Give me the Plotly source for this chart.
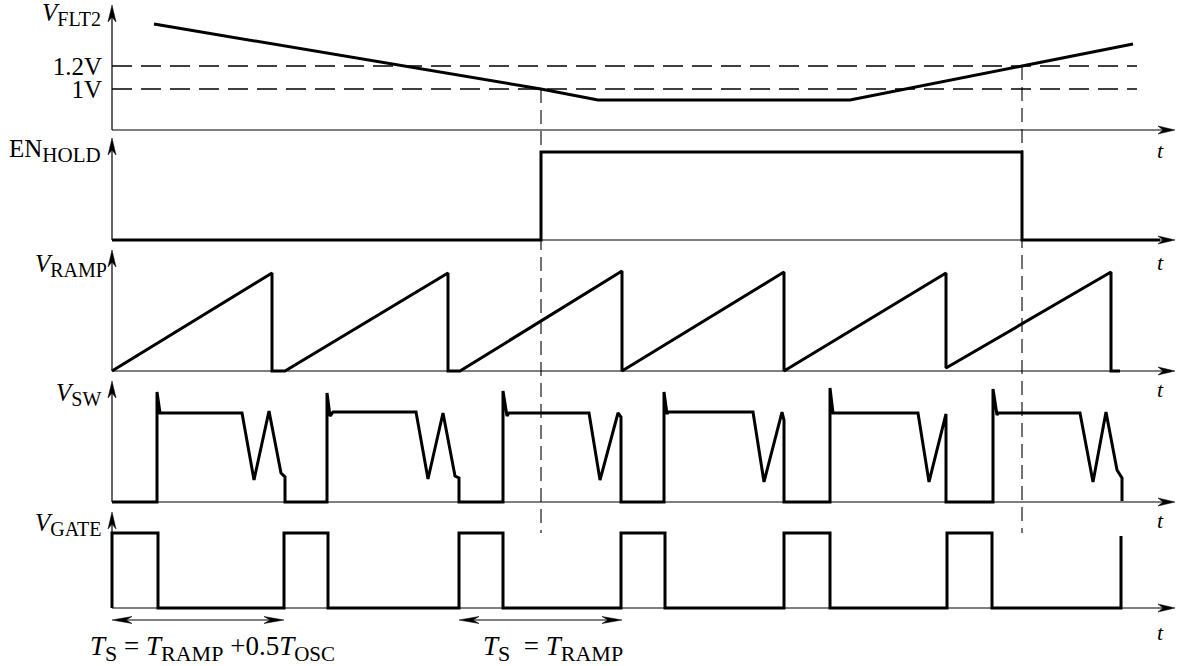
import plotly.graph_objects as go

W, H = 1179, 666
AX_X = 112            # pixel column of the vertical axes
SERIF = "Liberation Serif"

# ---------------- data (time t in arbitrary units, t=0 at the axes) ----------------
flt2_t = [42, 429, 486, 738, 910, 1021]
flt2_v = [1.565, 1.0, 0.904, 0.904, 1.2, 1.391]
thresholds = [1.0, 1.2]
threshold_labels = ["1V", "1.2V"]
cross_t = [429, 910]          # times where V_FLT2 crosses 1V (falling) and 1.2V (rising)

en_t = [0, 429, 429, 910, 910, 1048]
en_v = [0, 0, 1, 1, 0, 0]

ramp_t = [0, 160, 160, 173, 336, 336, 348, 510, 510, 672, 672, 834, 834, 999, 999, 1008]
ramp_v = [0, 1.0, 0, 0, 1.0, 0, 0, 1.02, 0, 1.01, 0, 1.0, 0.03, 1.01, 0, 0]

sw_t = [0, 45, 45, 48, 130, 142, 157, 169, 173, 173,
        215, 215, 218, 221, 304, 316, 331, 343, 347, 347,
        391, 391, 395, 397, 477, 488, 506, 509, 509,
        552, 552, 555, 556, 641, 652, 670, 672, 672,
        718, 718, 721, 806, 817, 834, 834,
        881, 881, 885, 886, 968, 981, 994, 1005, 1010, 1010]
sw_v = [0, 0, 1.236, 1.0, 1.0, 0.247, 1.022, 0.326, 0.281, 0,
        0, 1.225, 0.966, 1.011, 1.011, 0.258, 1.0, 0.292, 0.27, 0,
        0, 1.247, 0.966, 1.0, 1.0, 0.247, 1.0, 0.955, 0,
        0, 1.236, 0.989, 1.011, 1.011, 0.225, 1.011, 0.92, 0,
        0, 1.281, 1.0, 1.0, 0.225, 0.989, 0,
        0, 1.27, 0.978, 1.0, 1.0, 0.225, 1.011, 0.36, 0.27, 0.01]

gate_t = [0, 0, 46, 46, 172, 172, 216, 216, 347, 347, 391, 391, 509, 509,
          553, 553, 672, 672, 718, 718, 835, 835, 880, 880, 1009, 1009]
gate_v = [0, 1, 1, 0, 0, 1, 1, 0, 0, 1, 1, 0, 0, 1,
          1, 0, 0, 1, 1, 0, 0, 1, 1, 0, 0, 0.96]

# period markers (T_S intervals) taken from gate rising edges
ts_spans = [(0, 172), (347, 510)]


def sub(txt, size):
    return f"<sub><span style='font-size:{size}px'>{txt}</span></sub>"


ts_labels = [
    "<i>T</i>" + sub("S", 22) + " = <i>T</i>" + sub("RAMP", 22) + " +0.5<i>T</i>" + sub("OSC", 21),
    "<i>T</i>" + sub("S", 22) + "  = <i>T</i>" + sub("RAMP", 22),
]

# ---------------- panel geometry (pixels) ----------------
PAD = 4
panels = [  # top px, baseline px, px per unit, value at baseline
    dict(top=0, base=130, s=115.0, r0=1 - 41 / 115.0),
    dict(top=131, base=240, s=88.0, r0=0.0),
    dict(top=241, base=371, s=98.0, r0=0.0),
    dict(top=372, base=502, s=89.0, r0=0.0),
    dict(top=503, base=608, s=75.0, r0=0.0),
]
tips = [5, 138, 250, 381, 512]


def fx(x):
    return x / W


def fy(y):
    return 1 - y / H


fig = go.Figure()
layout = dict(
    width=W, height=H, autosize=False,
    margin=dict(l=0, r=0, t=0, b=0),
    paper_bgcolor="white", plot_bgcolor="rgba(0,0,0,0)",
    showlegend=False,
    font=dict(family=SERIF, color="black"),
    xaxis=dict(domain=[0, 1], range=[-AX_X, W - AX_X], visible=False, fixedrange=True),
)
for i, p in enumerate(panels):
    top_eff = max(0, p["top"] - PAD)
    bot = p["base"] + PAD
    dom = [fy(bot), fy(top_eff)]
    rng = [p["r0"] - PAD / p["s"], p["r0"] + (p["base"] - top_eff) / p["s"]]
    key = "yaxis" if i == 0 else f"yaxis{i + 1}"
    ax = dict(domain=dom, range=rng, fixedrange=True, showgrid=False, zeroline=False,
              showline=False)
    if i == 0:
        ax.update(anchor="free", position=AX_X / W, side="left",
                  tickmode="array", tickvals=thresholds, ticktext=threshold_labels,
                  ticks="", ticklabelstandoff=10,
                  tickfont=dict(family=SERIF, size=25, color="black"))
    else:
        ax.update(anchor="x", visible=False)
    layout[key] = ax

THICK = dict(color="black", width=3)


def add(t, v, yref, line):
    fig.add_trace(go.Scatter(x=t, y=v, mode="lines", line=line, xaxis="x", yaxis=yref,
                             hoverinfo="skip"))


for v in thresholds:
    add([0, 1025], [v, v], "y", dict(color="black", width=1.3, dash="20px,9px"))
add(flt2_t, flt2_v, "y", THICK)
add(en_t, en_v, "y2", THICK)
add(ramp_t, ramp_v, "y3", THICK)
add(sw_t, sw_v, "y4", THICK)
add(gate_t, gate_v, "y5", THICK)

shapes = []


def arrow(tipx, tipy, dx, dy, L=17, hw=4, notch=5):
    bx, by = tipx - L * dx, tipy - L * dy
    px, py = -dy, dx
    nx, ny = tipx - (L - notch) * dx, tipy - (L - notch) * dy
    pts = [(tipx, tipy), (bx + hw * px, by + hw * py), (nx, ny), (bx - hw * px, by - hw * py)]
    path = "M " + " L ".join(f"{fx(a):.5f},{fy(b):.5f}" for a, b in pts) + " Z"
    shapes.append(dict(type="path", path=path, xref="paper", yref="paper",
                       fillcolor="black", line=dict(color="black", width=0.5)))


def seg(x0, y0, x1, y1, w=1.2, dash=None):
    ln = dict(color="black", width=w)
    if dash:
        ln["dash"] = dash
    shapes.append(dict(type="line", xref="paper", yref="paper",
                       x0=fx(x0), y0=fy(y0), x1=fx(x1), y1=fy(y1), line=ln))


AX_END = 1175
for p, tip in zip(panels, tips):
    seg(AX_X, p["base"], AX_END - 6, p["base"])
    arrow(AX_END, p["base"], 1, 0)
    seg(AX_X, p["base"], AX_X, tip + 6)
    arrow(AX_X, tip, 0, -1)

# vertical dashed guides at threshold crossings
for ct, ystart in zip(cross_t, [89, 66]):
    shapes.append(dict(type="line", xref="x", yref="paper", x0=ct, x1=ct,
                       y0=fy(ystart), y1=fy(533),
                       line=dict(color="black", width=1.1, dash="14px,7px")))

# T_S double arrows
ARR_Y = 620
for a, b in ts_spans:
    xa, xb = a + AX_X, b + AX_X
    seg(xa + 6, ARR_Y, xb - 6, ARR_Y, w=1.2)
    arrow(xb, ARR_Y, 1, 0, L=20, hw=3.5, notch=6)
    arrow(xa, ARR_Y, -1, 0, L=20, hw=3.5, notch=6)

anns = []


def label(text, xr, yc, size=25, anchor="right"):
    anns.append(dict(text=text, x=fx(xr), y=fy(yc), xref="paper", yref="paper",
                     xanchor=anchor, yanchor="middle", showarrow=False,
                     font=dict(family=SERIF, size=size, color="black")))


label("<i>V</i>" + sub("FLT2", 20), 103, 15, 25)
label("EN" + sub("HOLD", 21), 103, 151, 25)
label("<i>V</i>" + sub("RAMP", 20), 109, 265, 25)
label("<i>V</i>" + sub("SW", 20), 103, 394, 25)
label("<i>V</i>" + sub("GATE", 20), 103, 524, 25)
for y in [150, 262, 389, 520, 632]:
    label("<i>t</i>", 1160, y, 22, anchor="center")

label(ts_labels[0], 212, 648, 27, anchor="center")
label(ts_labels[1], 553, 648, 27, anchor="center")

layout["shapes"] = shapes
layout["annotations"] = anns
fig.update_layout(**layout)
fig.write_html("out.html", config={"displayModeBar": False},
               post_script="document.body.style.margin='0px';document.body.style.padding='0px';")
